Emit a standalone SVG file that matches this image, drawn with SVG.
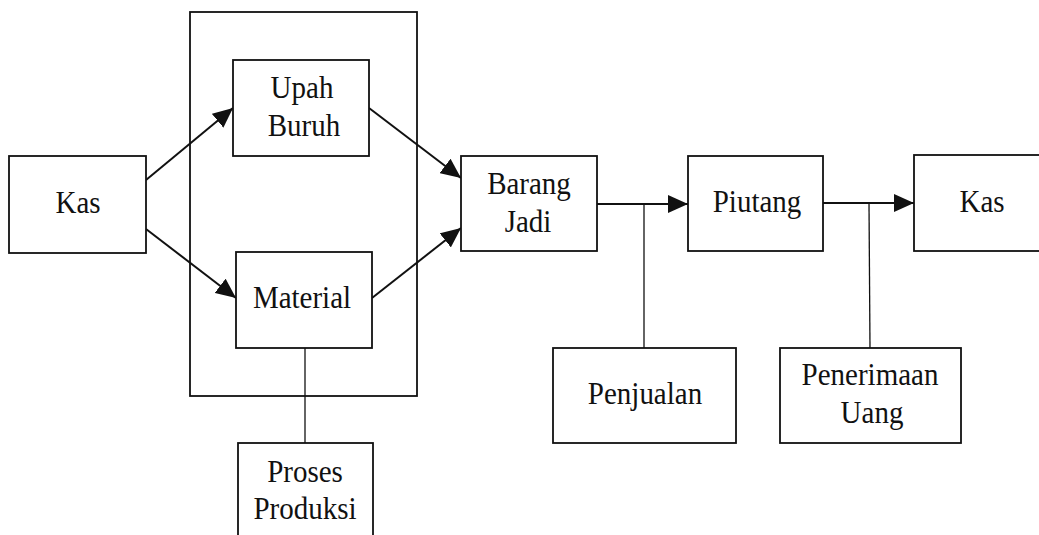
<svg xmlns="http://www.w3.org/2000/svg" width="1039" height="535" viewBox="0 0 1039 535">
<style>
.box{fill:#fff;stroke:#111;stroke-width:1.8}
.frame{fill:none;stroke:#111;stroke-width:1.8}
.arr{fill:none;stroke:#111;stroke-width:2;marker-end:url(#ah)}
.ln{fill:none;stroke:#111;stroke-width:1.3}
.t{font-family:"Liberation Serif","Times New Roman",serif;font-size:29px;fill:#111;text-anchor:middle}
</style>
<defs>
<marker id="ah" viewBox="0 0 20 18" refX="20" refY="9" markerWidth="20" markerHeight="18" markerUnits="userSpaceOnUse" orient="auto">
<path d="M0,0 L20,9 L0,18 z" fill="#111"/>
</marker>
</defs>
<rect width="1039" height="535" fill="#fff"/>
<rect id="proses-frame" class="frame" x="190" y="12" width="227" height="384"/>
<g id="connectors">
<line class="arr" x1="146" y1="180" x2="233" y2="108"/>
<line class="arr" x1="146" y1="229" x2="236" y2="298"/>
<line class="arr" x1="369" y1="108" x2="461" y2="178"/>
<line class="arr" x1="372" y1="298" x2="461" y2="228"/>
<line class="arr" x1="597" y1="204" x2="688" y2="204"/>
<line class="arr" x1="823" y1="203" x2="914" y2="203"/>
<line class="ln" x1="644" y1="204" x2="644" y2="348"/>
<line class="ln" x1="869" y1="203" x2="870" y2="348"/>
<line class="ln" x1="305" y1="348" x2="305" y2="443"/>
</g>
<g id="kas1">
<rect class="box" x="9" y="156" width="137" height="97"/>
<text class="t" transform="translate(78,213) scale(1,1.1)">Kas</text>
</g>
<g id="upah-buruh">
<rect class="box" x="233" y="60" width="136" height="96"/>
<text class="t" transform="translate(302,98) scale(1,1.1)">Upah</text>
<text class="t" transform="translate(304,136) scale(1,1.1)">Buruh</text>
</g>
<g id="material">
<rect class="box" x="236" y="252" width="136" height="96"/>
<text class="t" transform="translate(302,308) scale(1,1.1)">Material</text>
</g>
<g id="proses-produksi">
<rect class="box" x="238" y="443" width="135" height="110"/>
<text class="t" transform="translate(305,482) scale(1,1.1)">Proses</text>
<text class="t" transform="translate(305,519) scale(1,1.1)">Produksi</text>
</g>
<g id="barang-jadi">
<rect class="box" x="461" y="156" width="136" height="95"/>
<text class="t" transform="translate(529,194) scale(1,1.1)">Barang</text>
<text class="t" transform="translate(528,232) scale(1,1.1)">Jadi</text>
</g>
<g id="piutang">
<rect class="box" x="688" y="156" width="135" height="95"/>
<text class="t" transform="translate(757,212) scale(1,1.1)">Piutang</text>
</g>
<g id="kas2">
<rect class="box" x="914" y="155" width="135" height="96"/>
<text class="t" transform="translate(982,212) scale(1,1.1)">Kas</text>
</g>
<g id="penjualan">
<rect class="box" x="553" y="348" width="183" height="95"/>
<text class="t" transform="translate(645,404) scale(1,1.1)">Penjualan</text>
</g>
<g id="penerimaan-uang">
<rect class="box" x="780" y="348" width="181" height="95"/>
<text class="t" transform="translate(870,385) scale(1,1.1)">Penerimaan</text>
<text class="t" transform="translate(872,423) scale(1,1.1)">Uang</text>
</g>
</svg>
